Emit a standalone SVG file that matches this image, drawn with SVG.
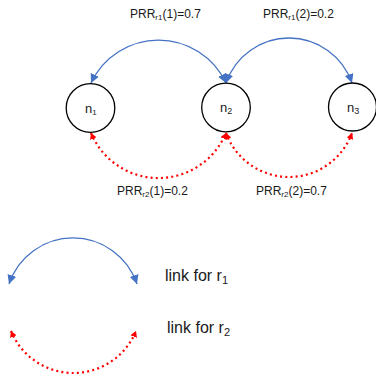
<svg xmlns="http://www.w3.org/2000/svg" width="376" height="376" viewBox="0 0 376 376">
<style>
.node{fill:#fff;stroke:#000;stroke-width:1.3}
.blue{fill:none;stroke:#4472C4;stroke-width:1.3}
.red{fill:none;stroke:#FF0000;stroke-width:2.2;stroke-dasharray:2 3.2}
text{font-family:"Liberation Sans",Arial,sans-serif;fill:#1a1a1a}
.lbl{font-size:12px}
.sub{font-size:8px}
.nl{font-size:13px}
.lg{font-size:16px}
</style>
<defs>
<marker id="ab" markerUnits="userSpaceOnUse" markerWidth="10" markerHeight="10" refX="9" refY="4.5" orient="auto-start-reverse" viewBox="0 0 10 10">
<path d="M0,0 L9,4.5 L0,9 Z" fill="#4472C4"/>
</marker>
<marker id="ar" markerUnits="userSpaceOnUse" markerWidth="8" markerHeight="8" refX="6" refY="3.5" orient="auto-start-reverse" viewBox="0 0 8 8">
<path d="M0,0 L6,3.5 L0,7 Z" fill="#FF0000"/>
</marker>
</defs>
<g id="connectors">
<path class="blue" d="M91,83 A74.5,74.5 0 0 1 226,83" marker-start="url(#ab)" marker-end="url(#ab)"/>
<path class="blue" d="M226,83 A66.6,66.6 0 0 1 352,83" marker-start="url(#ab)" marker-end="url(#ab)"/>
<path class="red" d="M91,133 A73.1,73.1 0 0 0 226,133" marker-start="url(#ar)" marker-end="url(#ar)"/>
<path class="red" d="M226,133 A67.1,67.1 0 0 0 352,133" marker-start="url(#ar)" marker-end="url(#ar)"/>
</g>
<g id="n1">
<circle class="node" cx="90.5" cy="108" r="24.3"/>
<text class="nl" x="85" y="113">n<tspan class="sub" font-size="9" dy="2">1</tspan></text>
</g>
<g id="n2">
<circle class="node" cx="226" cy="107.5" r="24.3"/>
<text class="nl" x="220" y="112">n<tspan font-size="9" dy="2">2</tspan></text>
</g>
<g id="n3">
<circle class="node" cx="352.5" cy="107" r="24"/>
<text class="nl" x="347" y="112">n<tspan font-size="9" dy="2">3</tspan></text>
</g>
<g id="labels">
<text class="lbl" x="130" y="18">PRR<tspan class="sub" dy="2">r1</tspan><tspan dy="-2">(1)=0.7</tspan></text>
<text class="lbl" x="263" y="18">PRR<tspan class="sub" dy="2">r1</tspan><tspan dy="-2">(2)=0.2</tspan></text>
<text class="lbl" x="117" y="195">PRR<tspan class="sub" dy="2">r2</tspan><tspan dy="-2">(1)=0.2</tspan></text>
<text class="lbl" x="256" y="195">PRR<tspan class="sub" dy="2">r2</tspan><tspan dy="-2">(2)=0.7</tspan></text>
</g>
<g id="legend">
<path class="blue" d="M9,284 A67.5,67.5 0 0 1 137,284" marker-start="url(#ab)" marker-end="url(#ab)"/>
<path class="red" d="M11,331 A67.5,67.5 0 0 0 136,331" marker-start="url(#ar)" marker-end="url(#ar)"/>
<text class="lg" x="165" y="281">link for r<tspan font-size="11" dy="3">1</tspan></text>
<text class="lg" x="167" y="333">link for r<tspan font-size="11" dy="3">2</tspan></text>
</g>
</svg>
